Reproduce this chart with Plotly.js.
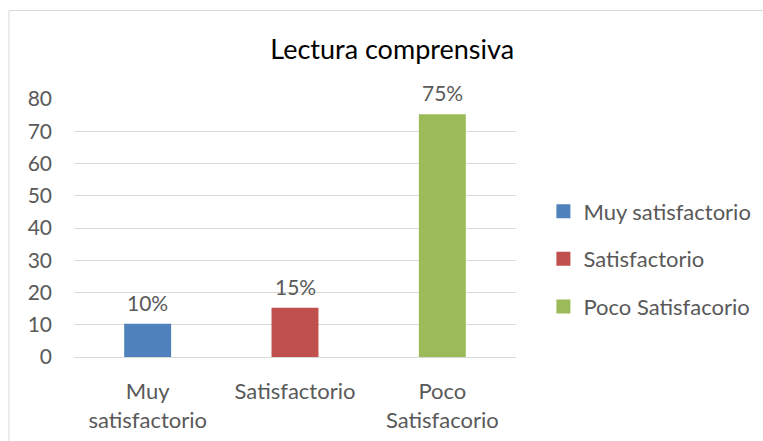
<!DOCTYPE html>
<html>
<head>
<meta charset="utf-8">
<script src="https://cdn.plot.ly/plotly-3.0.1.min.js"></script>
<style>
html,body{margin:0;padding:0;background:#fff;}
#chart{width:763px;height:441px;}
</style>
</head>
<body>
<div id="chart"></div>
<script>
const categories = ["Muy<br>satisfactorio", "Satisfactorio", "Poco<br>Satisfacorio"];
const seriesNames = ["Muy satisfactorio", "Satisfactorio", "Poco Satisfacorio"];
const values = [10, 15, 75];
const labels = ["10%", "15%", "75%"];
const colors = ["#4f81bd", "#c0504d", "#9bbb59"];
const yTicks = [0, 10, 20, 30, 40, 50, 60, 70, 80];

const FONT = "Lato, 'Open Sans', sans-serif";
const traces = values.map((v, i) => ({
  type: "bar",
  x: [categories[i]],
  y: [v],
  name: seriesNames[i],
  legendgroup: "g" + i,
  marker: {color: colors[i], line: {color: colors[i], width: 2}},
  width: 0.305,
  hoverinfo: "skip"
}));

const annotations = values.map((v, i) => ({
  x: categories[i], y: v, xref: "x", yref: "y",
  text: labels[i], showarrow: false, yanchor: "bottom", yshift: 8,
  font: {family: FONT, size: 21, color: "#595959"}
}));

const layout = {
  width: 763, height: 441,
  margin: {l: 74, r: 247, t: 99, b: 84, autoexpand: false},
  paper_bgcolor: "#fff", plot_bgcolor: "#fff",
  barmode: "overlay",
  showlegend: true,
  title: {text: "Lectura comprensiva", xref: "container", yref: "container",
    x: 0.514, y: 1 - 50/441, xanchor: "center", yanchor: "middle",
    font: {family: FONT, size: 27, color: "#000"}},
  xaxis: {type: "category", categoryorder: "array", categoryarray: categories,
    showgrid: false, zeroline: false, showline: false, ticks: "", automargin: false,
    tickfont: {family: FONT, size: 22, color: "#595959"}, ticklabelstandoff: 19},
  yaxis: {range: [0, 80], tickvals: yTicks, showgrid: true, gridcolor: "#d9d9d9", gridwidth: 1,
    zeroline: true, zerolinecolor: "#d9d9d9", zerolinewidth: 1, showline: false, ticks: "", automargin: false,
    tickfont: {family: FONT, size: 21, color: "#595959"}, ticklabelstandoff: 21},
  legend: {x: 1.062, y: 0.38, xanchor: "left", yanchor: "middle", tracegroupgap: 16,
    font: {family: FONT, size: 22, color: "#595959"}, bgcolor: "rgba(0,0,0,0)"},
  annotations: annotations,
  shapes: [{type: "rect", xref: "paper", yref: "paper",
    x0: (9 - 74) / 442, x1: (775 - 74) / 442, y0: (357 - 450) / 258, y1: (357 - 10.5) / 258,
    line: {color: "#d9d9d9", width: 1}, fillcolor: "rgba(0,0,0,0)", layer: "below"}]
};

Plotly.newPlot("chart", traces, layout, {staticPlot: true, displayModeBar: false});
</script>
</body>
</html>
